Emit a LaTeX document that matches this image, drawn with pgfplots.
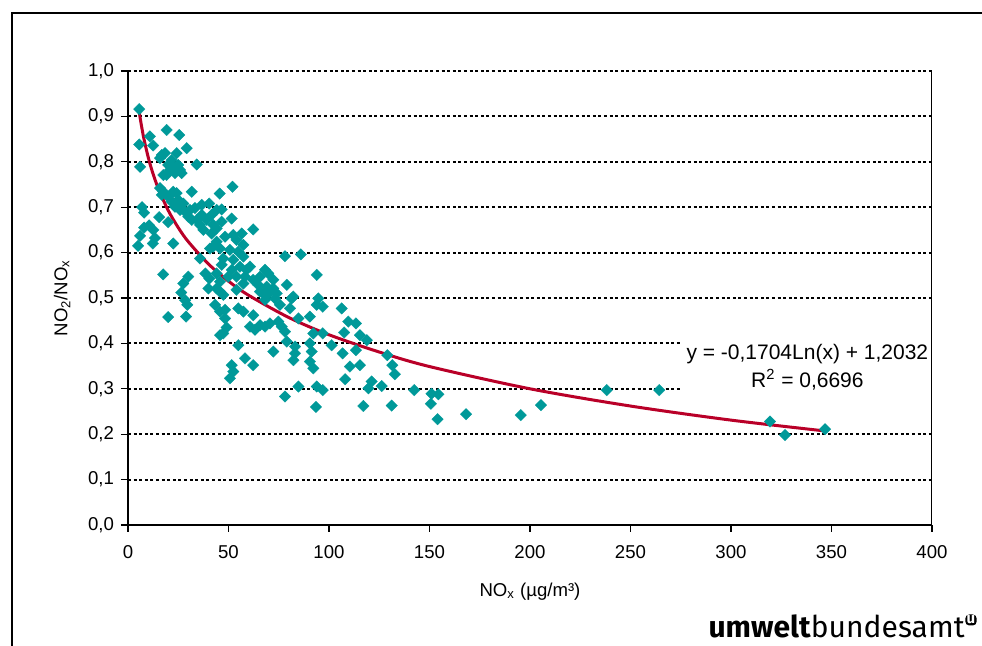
\documentclass[border=0pt]{standalone}
\usepackage{fontspec}
\setmainfont{Liberation Sans}
\newfontfamily\logofont{Fira Sans}
\usepackage{pgfplots}
\pgfplotsset{compat=1.18}

\definecolor{ubaTeal}{RGB}{0,153,153}
\definecolor{ubaRed}{RGB}{185,0,40}

\begin{document}
\begin{tikzpicture}
\useasboundingbox (-64pt,-60.5pt) rectangle (427pt,262.5pt);
% outer frame (top and left edge only are visible)
\draw[line width=1pt, line join=miter] (-58pt,-70pt) -- (-58pt,256pt) -- (440pt,256pt);

\begin{axis}[
  at={(0pt,0pt)}, anchor=south west,
  scale only axis, width=402pt, height=227pt,
  xmin=0, xmax=400, ymin=0, ymax=1,
  xtick distance=50, ytick distance=0.1,
  axis x line*=bottom, axis y line*=left,
  x axis line style={line width=1pt},
  y axis line style={line width=0.8pt},
  tick align=outside, major tick length=3.5pt,
  every tick/.style={black, line width=0.6pt},
  ymajorgrids,
  major grid style={black, line width=1pt, dash pattern=on 1.5pt off 1.3pt},
  tick label style={font=\fontsize{9.3}{11}\selectfont},
  /pgf/number format/assume math mode=true,
  yticklabel style={/pgf/number format/fixed, /pgf/number format/fixed zerofill,
    /pgf/number format/precision=1, /pgf/number format/use comma},
  xticklabel style={yshift=-3pt},
  label style={font=\fontsize{9.3}{11}\selectfont},
  xlabel={NO\textsubscript{x} (µg/m³)},
  ylabel={NO\textsubscript{2}/NO\textsubscript{x}},
  xlabel style={at={(axis description cs:0.5,-0.148)}, anchor=center},
  ylabel style={at={(axis description cs:-0.082,0.5)}, anchor=center},
]

\addplot[ubaTeal, only marks, mark=square*, mark size=2.05pt,
  mark options={rotate=45, fill=ubaTeal, draw=ubaTeal, line width=0.1pt}] table {
x y
5.6 0.916
5.6 0.838
6.0 0.789
7.0 0.700
8.0 0.688
8.0 0.655
10.5 0.660
6.0 0.637
5.0 0.615
10.9 0.856
12.5 0.836
12.6 0.650
13.4 0.632
12.4 0.620
19.2 0.870
25.5 0.859
29.2 0.830
16.8 0.815
18.4 0.819
15.9 0.808
24.2 0.819
21.7 0.804
20.0 0.793
22.5 0.789
25.0 0.793
20.9 0.782
19.2 0.771
17.6 0.771
23.4 0.775
25.9 0.782
26.7 0.775
34.2 0.794
15.9 0.742
17.6 0.734
16.8 0.727
20.0 0.723
22.5 0.734
24.2 0.731
21.7 0.712
25.0 0.716
27.5 0.708
23.4 0.701
25.9 0.694
28.4 0.690
30.8 0.694
33.3 0.698
30.0 0.679
31.7 0.672
34.2 0.672
36.7 0.683
39.2 0.672
41.6 0.683
44.1 0.694
45.6 0.730
52.0 0.745
40.4 0.708
36.7 0.705
31.7 0.734
15.5 0.678
20.0 0.667
35.8 0.661
37.5 0.650
41.6 0.642
44.1 0.653
46.6 0.668
42.4 0.613
40.8 0.609
22.5 0.620
42.4 0.661
44.1 0.624
48.3 0.635
52.4 0.639
56.6 0.642
54.0 0.628
57.4 0.617
54.9 0.602
50.7 0.606
45.8 0.609
47.4 0.587
52.4 0.584
57.4 0.591
60.7 0.569
59.0 0.562
55.7 0.569
51.6 0.562
46.6 0.573
44.1 0.554
49.9 0.547
54.0 0.547
58.2 0.547
62.3 0.540
65.7 0.547
68.2 0.562
69.8 0.554
57.4 0.532
64.8 0.529
69.0 0.525
72.3 0.521
67.3 0.510
74.0 0.510
79.0 0.529
82.2 0.503
93.9 0.551
78.1 0.592
86.0 0.596
72.3 0.540
46.6 0.695
51.6 0.675
62.3 0.651
17.5 0.552
20.0 0.458
28.9 0.459
30.0 0.547
27.5 0.532
26.5 0.512
28.4 0.495
29.5 0.485
35.8 0.587
38.5 0.554
40.5 0.543
40.0 0.521
44.1 0.521
45.8 0.536
43.3 0.485
47.4 0.507
45.8 0.470
47.4 0.422
49.1 0.435
48.3 0.455
45.8 0.514
54.0 0.518
65.7 0.514
69.8 0.510
73.1 0.499
68.2 0.496
75.6 0.485
81.4 0.499
80.6 0.477
84.8 0.455
90.5 0.459
93.9 0.485
94.7 0.499
48.3 0.474
54.9 0.477
57.4 0.470
62.3 0.462
60.7 0.437
63.2 0.430
65.7 0.440
68.2 0.437
70.6 0.444
74.8 0.448
76.5 0.437
78.1 0.426
79.0 0.404
45.8 0.418
54.9 0.396
72.3 0.382
83.1 0.393
83.1 0.378
82.3 0.363
90.5 0.400
91.4 0.382
90.5 0.360
92.2 0.345
58.2 0.367
62.3 0.352
51.6 0.352
52.4 0.338
50.7 0.323
84.8 0.305
78.1 0.283
93.5 0.260
93.9 0.305
96.9 0.297
96.9 0.481
106.3 0.477
92.2 0.422
96.9 0.422
107.5 0.424
115.4 0.418
118.8 0.407
101.3 0.396
106.8 0.378
113.4 0.385
109.6 0.448
113.4 0.444
110.4 0.349
115.4 0.352
108.0 0.321
121.2 0.316
119.6 0.301
126.2 0.306
117.1 0.262
129.0 0.374
131.5 0.352
132.8 0.332
131.2 0.263
142.4 0.297
151.0 0.289
154.4 0.288
150.7 0.267
154.0 0.233
168.2 0.244
195.4 0.242
205.5 0.264
238.2 0.297
264.3 0.297
319.4 0.228
326.9 0.198
346.8 0.211
};

% logarithmic trend line
\addplot[no marks, smooth, ubaRed, line width=1.5pt] coordinates {
(5.5,0.913) (6,0.898) (7,0.872) (8,0.849) (10,0.811) (12,0.780)
(15,0.742) (20,0.693) (25,0.655) (30,0.624) (40,0.575) (50,0.537)
(60,0.506) (80,0.457) (100,0.419) (125,0.381) (150,0.349)
(200,0.300) (250,0.262) (300,0.231) (347,0.207)
};

\node[fill=white, inner xsep=3pt, inner ysep=1.5pt, align=center,
  font=\fontsize{10.5}{14}\selectfont] at (axis cs:338,0.347)
  {y = -0,1704Ln(x) + 1,2032\\R\textsuperscript{2} = 0,6696};

\draw[black, line width=0.5pt] (axis cs:400,0) -- (axis cs:400,1);
\end{axis}

% logo
\node[anchor=base east, inner sep=0pt, font=\logofont\fontsize{15}{17}\selectfont]
  at (418.5pt,-56.5pt) {\textbf{umwelt}bundesamt};
\node[fill=black, text=white, rounded corners=2pt, inner sep=0.7pt,
  font=\logofont\bfseries\fontsize{7.5}{7.5}\selectfont] at (421.5pt,-47.5pt) {u};
\end{tikzpicture}
\end{document}
